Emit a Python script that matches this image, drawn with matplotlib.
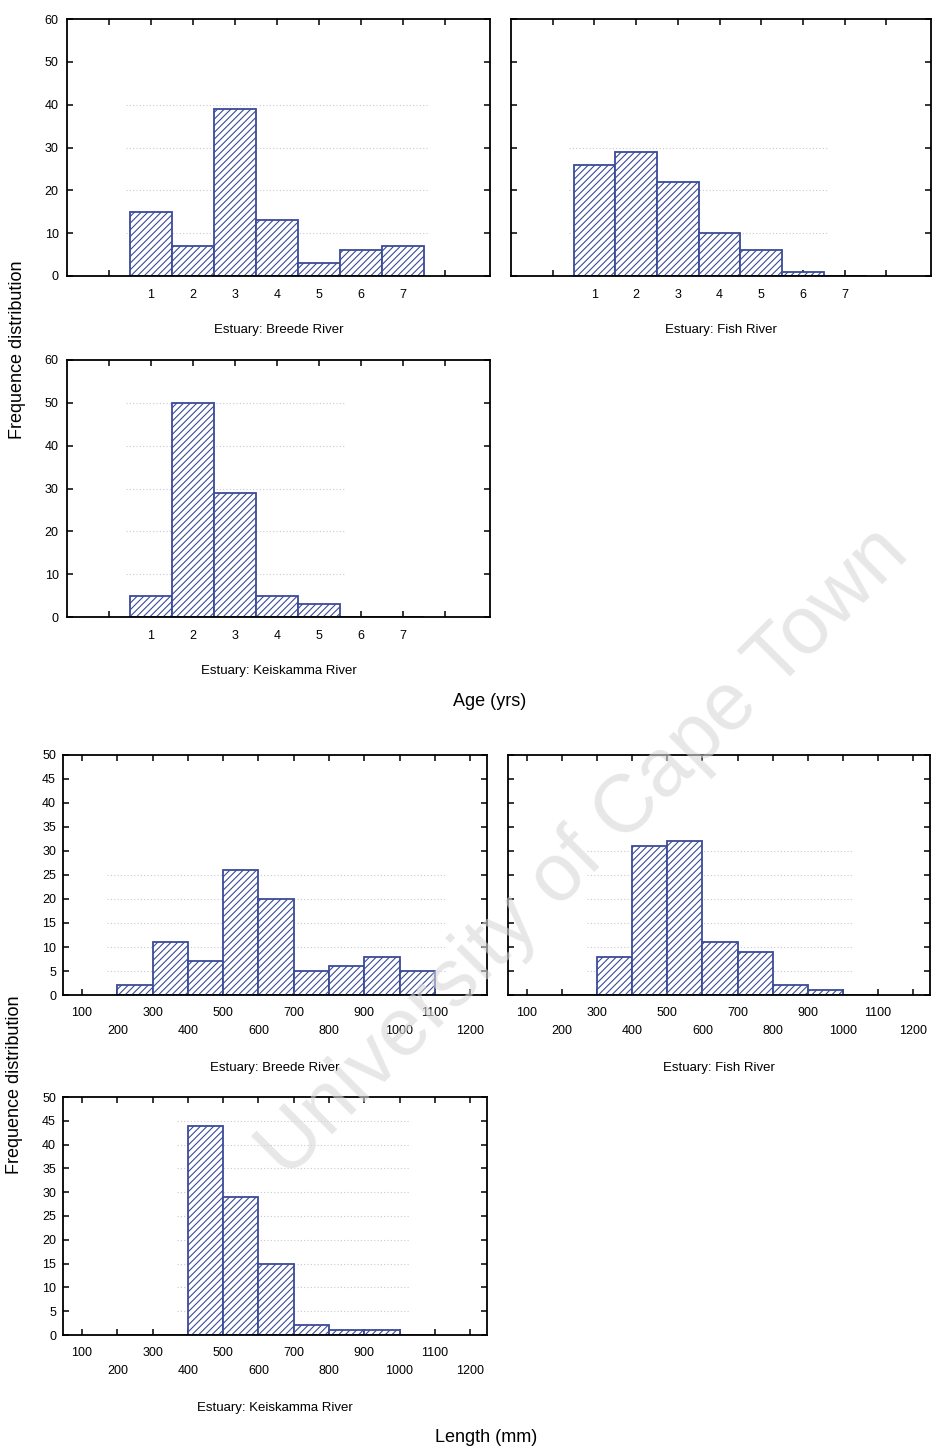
import matplotlib.pyplot as plt
import numpy as np

plt.rcParams['font.family'] = ['Liberation Sans', 'DejaVu Sans']
plt.rcParams['hatch.linewidth'] = 0.8

# Age classes (yrs) and counts per estuary
ages = [1, 2, 3, 4, 5, 6, 7]
age_breede = [15, 7, 39, 13, 3, 6, 7]
age_fish = [26, 29, 22, 10, 6, 1, 0]
age_keiskamma = [5, 50, 29, 5, 3, 0, 0]

# Length bins (mm, left edges, width 100) and counts per estuary
len_bins = [200, 300, 400, 500, 600, 700, 800, 900, 1000]
len_breede = [2, 11, 7, 26, 20, 5, 6, 8, 5]
len_fish = [0, 8, 31, 32, 11, 9, 2, 1, 0]
len_keiskamma = [0, 0, 44, 29, 15, 2, 1, 1, 0]

age_ticks = [0, 1, 2, 3, 4, 5, 6, 7, 8]
age_ticklabels = ['', '1', '2', '3', '4', '5', '6', '7', '']
len_ticks = [100, 200, 300, 400, 500, 600, 700, 800, 900, 1000, 1100, 1200]
len_ticklabels = ['100', '\n200', '300', '\n400', '500', '\n600', '700', '\n800',
                  '900', '\n1000', '1100', '\n1200']

edge = '#3a4b98'
W, H = 932, 1452
fig = plt.figure(figsize=(W / 100, H / 100), dpi=100)


def box(l, t, w, h):
    return fig.add_axes([l / W, 1 - (t + h) / H, w / W, h / H])


def style(ax, show_y):
    for s in ax.spines.values():
        s.set_linewidth(1.3)
        s.set_color('black')
    ax.tick_params(direction='in', top=True, right=True, length=4, width=1.1,
                   labelsize=9, colors='black')
    if not show_y:
        ax.tick_params(labelleft=False)


def faint_grid(ax, lo, hi, levels):
    ax.hlines(levels, lo, hi, colors='#c8c8d8', linestyles=(0, (1, 2)), linewidth=0.8, zorder=0)


def age_panel(ax, counts, title, show_y=True):
    ax.bar(ages, counts, width=1.0, facecolor='white', edgecolor=edge,
           hatch='/////', linewidth=1.3, zorder=2)
    top = max(counts)
    nz = [a for a, c in zip(ages, counts) if c > 0]
    faint_grid(ax, nz[0] - 0.6, nz[-1] + 0.6, [v for v in range(10, 61, 10) if v <= top + 2])
    ax.set_xlim(-1, 9.07)
    ax.set_ylim(0, 60)
    ax.set_xticks(age_ticks)
    ax.set_xticklabels(age_ticklabels)
    ax.set_yticks(range(0, 61, 10))
    style(ax, show_y)
    ax.tick_params(axis='x', pad=9)
    ax.tick_params(axis='y', pad=6)
    ax.text(0.5, -0.21, title, transform=ax.transAxes, ha='center', va='center',
            fontsize=9.5)


def len_panel(ax, counts, title, show_y=True):
    ax.bar(len_bins, counts, width=100, align='edge', facecolor='white',
           edgecolor=edge, hatch='/////', linewidth=1.3, zorder=2)
    top = max(counts)
    nz = [b for b, c in zip(len_bins, counts) if c > 0]
    faint_grid(ax, nz[0] - 30, nz[-1] + 130, [v for v in range(5, 51, 5) if v <= top + 2])
    ax.set_xlim(46, 1248)
    ax.set_ylim(0, 50)
    ax.set_xticks(len_ticks)
    ax.set_xticklabels(len_ticklabels, linespacing=1.6)
    ax.set_yticks(range(0, 51, 5))
    style(ax, show_y)
    ax.tick_params(axis='x', pad=9)
    ax.tick_params(axis='y', pad=5)
    ax.text(0.5, -0.305, title, transform=ax.transAxes, ha='center', va='center',
            fontsize=9.5)


age_panel(box(67, 19, 423, 257), age_breede, 'Estuary: Breede River')
age_panel(box(511, 19, 420, 257), age_fish, 'Estuary: Fish River', show_y=False)
age_panel(box(67, 360, 423, 257), age_keiskamma, 'Estuary: Keiskamma River')

len_panel(box(63, 755, 424, 240), len_breede, 'Estuary: Breede River')
len_panel(box(508, 755, 422, 240), len_fish, 'Estuary: Fish River', show_y=False)
len_panel(box(63, 1097, 424, 238), len_keiskamma, 'Estuary: Keiskamma River')

fig.text(18 / W, 1 - 350 / H, 'Frequence distribution', rotation=90, ha='center',
         va='center', fontsize=13)
fig.text(15 / W, 1 - 1085 / H, 'Frequence distribution', rotation=90, ha='center',
         va='center', fontsize=13)
fig.text(490 / W, 1 - 701 / H, 'Age (yrs)', ha='center', va='center', fontsize=13)
fig.text(486 / W, 1 - 1438 / H, 'Length (mm)', ha='center', va='center', fontsize=13)

# scan watermark
fig.text(584 / W, 1 - 853 / H, 'University of Cape Town', rotation=45,
         rotation_mode='anchor', ha='center', va='center', fontsize=59,
         color='#d8d8d8', alpha=0.6, zorder=10)

plt.savefig('out.png', dpi=100)
print("Saved out.png")
